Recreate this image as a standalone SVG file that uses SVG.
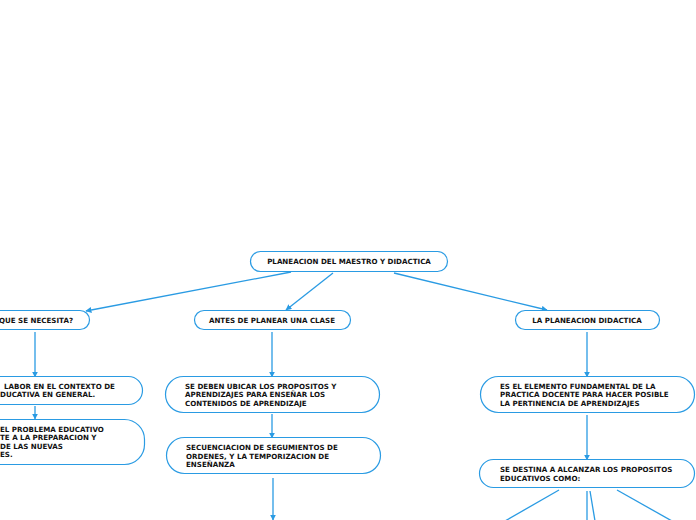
<svg xmlns="http://www.w3.org/2000/svg" width="696" height="520" viewBox="0 0 696 520">
<style>
.n{fill:#fff;stroke:#2a9be3;stroke-width:1.2}
.t{font-family:"DejaVu Sans",Verdana,sans-serif;font-weight:bold;font-size:7.1px;fill:#111}
.c{fill:none;stroke:#2a9be3;stroke-width:1.3}
</style>
<defs>
<marker id="a" viewBox="0 0 10 10" refX="9" refY="5" markerWidth="6" markerHeight="6" markerUnits="userSpaceOnUse" orient="auto"><path d="M0,0L10,5L0,10z" fill="#2a9be3"/></marker>
</defs>
<rect width="696" height="520" fill="#fff"/>
<g id="connectors">
<line class="c" x1="291" y1="272" x2="86" y2="311" marker-end="url(#a)"/>
<line class="c" x1="333" y1="273" x2="286" y2="310" marker-end="url(#a)"/>
<line class="c" x1="394" y1="273" x2="547" y2="310" marker-end="url(#a)"/>
<line class="c" x1="35" y1="332" x2="35" y2="377" marker-end="url(#a)"/>
<line class="c" x1="35" y1="406" x2="35" y2="419" marker-end="url(#a)"/>
<line class="c" x1="272" y1="332" x2="272" y2="377" marker-end="url(#a)"/>
<line class="c" x1="272" y1="414" x2="272" y2="438" marker-end="url(#a)"/>
<line class="c" x1="273" y1="478" x2="273" y2="520" marker-end="url(#a)"/>
<line class="c" x1="587" y1="332" x2="587" y2="377" marker-end="url(#a)"/>
<line class="c" x1="587" y1="415" x2="587" y2="460" marker-end="url(#a)"/>
<line class="c" x1="559" y1="490" x2="505" y2="521"/>
<line class="c" x1="587" y1="491" x2="587" y2="521"/>
<line class="c" x1="590" y1="491" x2="595" y2="521"/>
<line class="c" x1="617" y1="490" x2="672" y2="521"/>
</g>
<g id="root">
<rect class="n" x="250.5" y="251.5" width="197" height="20" rx="10"/>
<text class="t" x="349" y="263.7" text-anchor="middle">PLANEACION DEL MAESTRO Y DIDACTICA</text>
</g>
<g id="n-que">
<rect class="n" x="-40" y="310.5" width="129.5" height="19" rx="9.5"/>
<text class="t" x="73" y="322.7" text-anchor="end">QUE SE NECESITA?</text>
</g>
<g id="n-antes">
<rect class="n" x="194.5" y="310.5" width="156" height="19" rx="9.5"/>
<text class="t" x="272" y="322.7" text-anchor="middle">ANTES DE PLANEAR UNA CLASE</text>
</g>
<g id="n-planeacion">
<rect class="n" x="515.5" y="310.5" width="144" height="19" rx="9.5"/>
<text class="t" x="587" y="322.7" text-anchor="middle">LA PLANEACION DIDACTICA</text>
</g>
<g id="n-labor">
<rect class="n" x="-40" y="376.5" width="182.5" height="28" rx="14"/>
<text class="t" x="4" y="388.5">LABOR EN EL CONTEXTO DE</text>
<text class="t" x="0" y="397">DUCATIVA EN GENERAL.</text>
</g>
<g id="n-problema">
<rect class="n" x="-40" y="419.5" width="184.5" height="45" rx="20"/>
<text class="t" x="0" y="431.5">EL PROBLEMA EDUCATIVO</text>
<text class="t" x="0" y="440">TE A LA PREPARACION Y</text>
<text class="t" x="0" y="448.5">DE LAS NUEVAS</text>
<text class="t" x="0" y="457">ES.</text>
</g>
<g id="n-ubicar">
<rect class="n" x="165.5" y="376.5" width="214" height="36" rx="18"/>
<text class="t" x="185" y="388.5">SE DEBEN UBICAR LOS PROPOSITOS Y</text>
<text class="t" x="185" y="397">APRENDIZAJES PARA ENSEÑAR LOS</text>
<text class="t" x="185" y="405.5">CONTENIDOS DE APRENDIZAJE</text>
</g>
<g id="n-secuenciacion">
<rect class="n" x="166.5" y="437.5" width="214" height="36" rx="18"/>
<text class="t" x="186" y="450">SECUENCIACION DE SEGUMIENTOS DE</text>
<text class="t" x="186" y="458.5">ORDENES, Y LA TEMPORIZACION DE</text>
<text class="t" x="186" y="467">ENSEÑANZA</text>
</g>
<g id="n-elemento">
<rect class="n" x="480.5" y="376.5" width="214" height="36" rx="18"/>
<text class="t" x="500" y="388.5">ES EL ELEMENTO FUNDAMENTAL DE LA</text>
<text class="t" x="500" y="397">PRACTICA DOCENTE PARA HACER POSIBLE</text>
<text class="t" x="500" y="405.5">LA PERTINENCIA DE APRENDIZAJES</text>
</g>
<g id="n-destina">
<rect class="n" x="479.5" y="459.5" width="215" height="28" rx="14"/>
<text class="t" x="500" y="471.5">SE DESTINA A ALCANZAR LOS PROPOSITOS</text>
<text class="t" x="500" y="480.5">EDUCATIVOS COMO:</text>
</g>
</svg>
